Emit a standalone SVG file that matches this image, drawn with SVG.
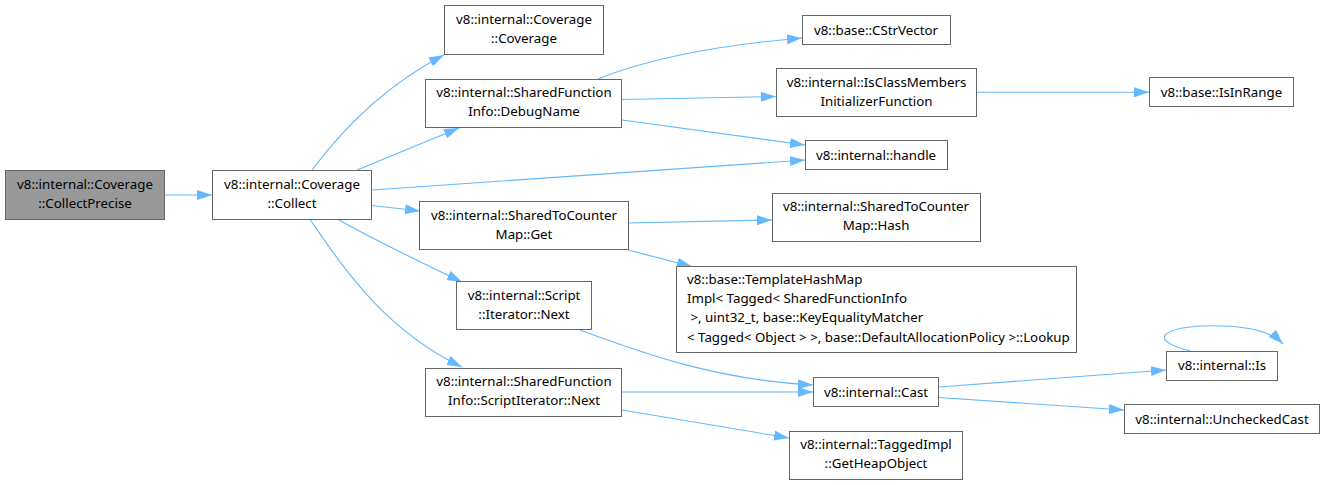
<svg xmlns="http://www.w3.org/2000/svg" width="1325" height="485" viewBox="0 0 1325 485">
<style>
.n rect{fill:#fff;stroke:#666;stroke-width:1}
.n text{font-family:"Noto Sans","DejaVu Sans",sans-serif;font-size:13.3px;fill:#000;text-anchor:middle}
.n text.l{text-anchor:start}
#root rect{fill:#999}
.e path{fill:none;stroke:#63b8ff;stroke-width:1.1}
</style>
<defs>
<marker id="ah" markerUnits="userSpaceOnUse" markerWidth="16" markerHeight="11" refX="15" refY="5" orient="auto">
<path d="M0,0 L15,5 L0,10 z" fill="#63b8ff"/>
</marker>
</defs>
<g class="e" id="edges">
<path d="M165,195 L212,195" marker-end="url(#ah)"/>
<path d="M312,170 C336,138 380,88 444,55" marker-end="url(#ah)"/>
<path d="M357,170 L459,128" marker-end="url(#ah)"/>
<path d="M372,190 L805,160" marker-end="url(#ah)"/>
<path d="M372,205.5 L420,211" marker-end="url(#ah)"/>
<path d="M338,219.5 C375,240 420,262 462,282" marker-end="url(#ah)"/>
<path d="M310,219.5 C345,270 385,330 462,367" marker-end="url(#ah)"/>
<path d="M598,79 C650,58 720,45 802,38" marker-end="url(#ah)"/>
<path d="M622,99.5 L776,96.5" marker-end="url(#ah)"/>
<path d="M622,120 L805,145" marker-end="url(#ah)"/>
<path d="M977,92.3 L1149,92.3" marker-end="url(#ah)"/>
<path d="M628,223 L772,220" marker-end="url(#ah)"/>
<path d="M628,250 L692,266.5" marker-end="url(#ah)"/>
<path d="M580,330 C650,356 720,380 813,385" marker-end="url(#ah)"/>
<path d="M622,392 L813,392" marker-end="url(#ah)"/>
<path d="M622,410 L789,438" marker-end="url(#ah)"/>
<path d="M939,387 L1166,370" marker-end="url(#ah)"/>
<path d="M939,397.5 L1124,410" marker-end="url(#ah)"/>
<path d="M1190,351 C1140,338 1170,324 1222,326 C1255,327 1272,333 1283,344" marker-end="url(#ah)"/>
</g>
<g class="n" id="root"><rect x="5.5" y="170.5" width="159" height="49"/><text x="85" y="188.5">v8::internal::Coverage</text><text x="85" y="207.5">::CollectPrecise</text></g>
<g class="n" id="collect"><rect x="212.5" y="170.5" width="159" height="49"/><text x="292" y="188.5">v8::internal::Coverage</text><text x="292" y="207.5">::Collect</text></g>
<g class="n" id="coverage"><rect x="444.5" y="5.5" width="159" height="49"/><text x="524" y="23.5">v8::internal::Coverage</text><text x="524" y="42.5">::Coverage</text></g>
<g class="n" id="debugname"><rect x="425.5" y="79.5" width="196" height="48"/><text x="524" y="97">v8::internal::SharedFunction</text><text x="524" y="116">Info::DebugName</text></g>
<g class="n" id="cstrvector"><rect x="802.5" y="15.5" width="148" height="29"/><text x="876" y="34.5">v8::base::CStrVector</text></g>
<g class="n" id="isclassmembers"><rect x="776.5" y="68.5" width="200" height="48"/><text x="876.5" y="86.5">v8::internal::IsClassMembers</text><text x="876.5" y="105.5">InitializerFunction</text></g>
<g class="n" id="isinrange"><rect x="1149.5" y="77.5" width="144" height="29"/><text x="1221.5" y="96.5">v8::base::IsInRange</text></g>
<g class="n" id="handle"><rect x="805.5" y="140.5" width="142" height="29"/><text x="876" y="159.5">v8::internal::handle</text></g>
<g class="n" id="get"><rect x="419.5" y="201.5" width="209" height="48"/><text x="524" y="219.5">v8::internal::SharedToCounter</text><text x="524" y="238.5">Map::Get</text></g>
<g class="n" id="hash"><rect x="772.5" y="193.5" width="208" height="48"/><text x="876" y="211">v8::internal::SharedToCounter</text><text x="876" y="230">Map::Hash</text></g>
<g class="n" id="lookup"><rect x="676.5" y="266.5" width="400" height="86"/><text class="l" x="687" y="284" xml:space="preserve">v8::base::TemplateHashMap</text><text class="l" x="687" y="303.2" xml:space="preserve">Impl&lt; Tagged&lt; SharedFunctionInfo</text><text class="l" x="687" y="322.4" xml:space="preserve"> &gt;, uint32_t, base::KeyEqualityMatcher</text><text class="l" x="687" y="341.6" xml:space="preserve">&lt; Tagged&lt; Object &gt; &gt;, base::DefaultAllocationPolicy &gt;::Lookup</text></g>
<g class="n" id="scriptiter"><rect x="456.5" y="281.5" width="135" height="48"/><text x="524" y="299.5">v8::internal::Script</text><text x="524" y="318.5">::Iterator::Next</text></g>
<g class="n" id="sfiscriptiter"><rect x="425.5" y="368.5" width="196" height="48"/><text x="524" y="386">v8::internal::SharedFunction</text><text x="524" y="405">Info::ScriptIterator::Next</text></g>
<g class="n" id="cast"><rect x="813.5" y="377.5" width="125" height="29"/><text x="876" y="396.5">v8::internal::Cast</text></g>
<g class="n" id="getheapobject"><rect x="789.5" y="431.5" width="173" height="48"/><text x="876" y="449">v8::internal::TaggedImpl</text><text x="876" y="468">::GetHeapObject</text></g>
<g class="n" id="is"><rect x="1166.5" y="351.5" width="111" height="29"/><text x="1222" y="370">v8::internal::Is</text></g>
<g class="n" id="uncheckedcast"><rect x="1124.5" y="404.5" width="195" height="29"/><text x="1222" y="423.5">v8::internal::UncheckedCast</text></g>
</svg>
